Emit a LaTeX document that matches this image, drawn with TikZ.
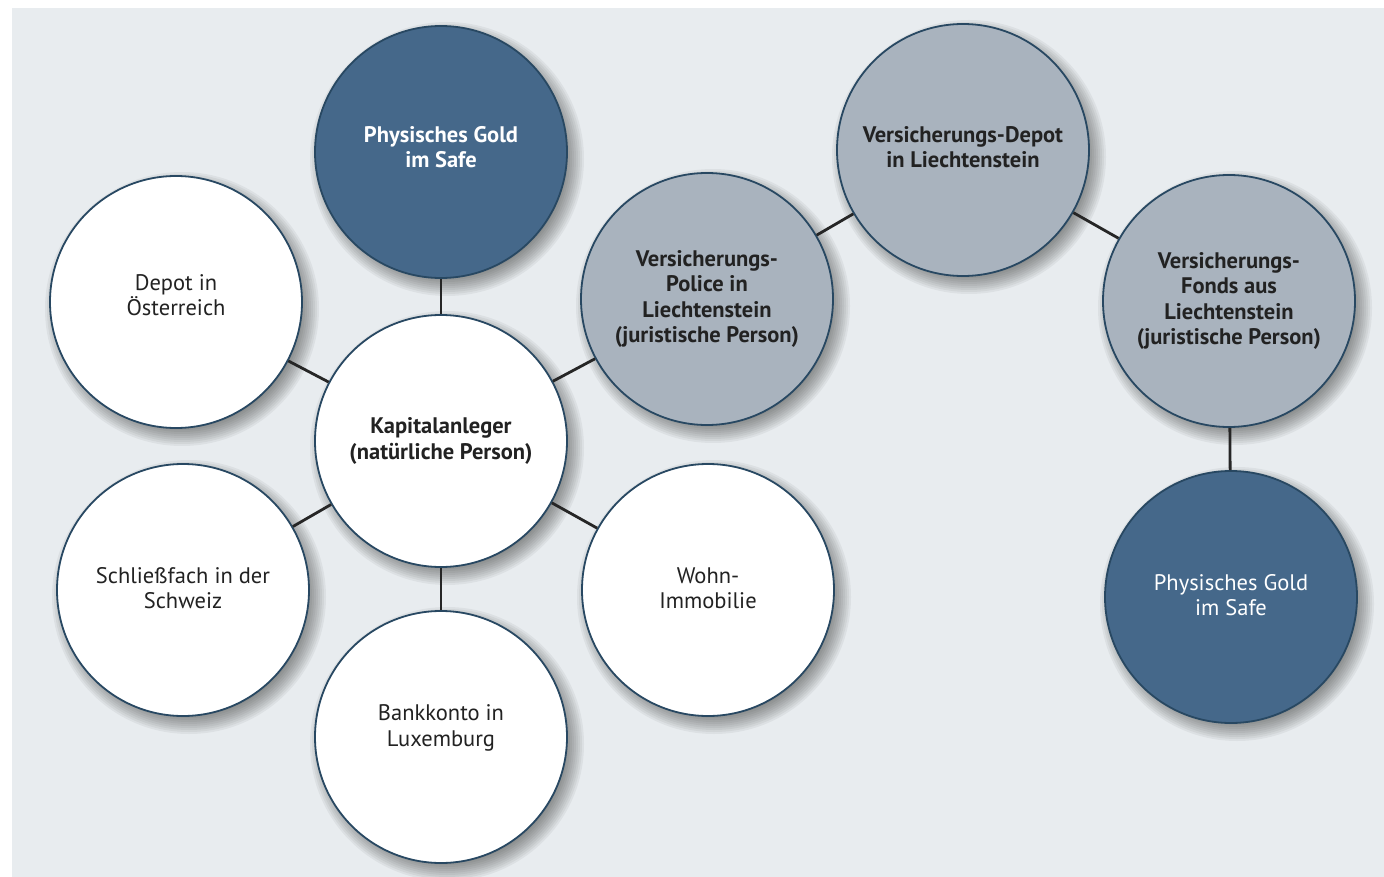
\documentclass[tikz,border=0pt]{standalone}
\usepackage{fontspec}
\setmainfont{PT Sans}
\pgfdeclarelayer{bglayer}
\pgfdeclarelayer{shadowlayer}
\pgfsetlayers{bglayer,shadowlayer,main}
\definecolor{bgc}{HTML}{E8ECEF}
\definecolor{darkc}{HTML}{45688A}
\definecolor{grayc}{HTML}{A9B3BE}
\definecolor{rimc}{HTML}{284862}
\definecolor{txtc}{HTML}{222222}
\tikzset{
  circ/.style={circle, draw=rimc, line width=1.8pt, minimum size=252pt, inner sep=0pt,
    align=center, font=\fontsize{22.5}{25.5}\selectfont, text=txtc},
  whitec/.style={circ, fill=white},
  boldt/.style={font=\fontsize{22.5}{25.5}\selectfont\bfseries},
  grayn/.style={circ, fill=grayc, boldt},
  darkn/.style={circ, fill=darkc, text=white},
  tup/.style={text depth=#1},
  conn/.style={draw=black!85, line width=2.8pt},
  shadowring/.style={fill=black!85, opacity=0.06}
}
\begin{document}
\begin{tikzpicture}[x=1pt,y=-1pt]
\useasboundingbox (0,0) rectangle (1384,877);
\begin{pgfonlayer}{bglayer}
\fill[white] (0,0) rectangle (1384,877);
\fill[bgc] (12,8) rectangle (1384,877);
\end{pgfonlayer}

\node[whitec, boldt] (A) at (441,441) {Kapitalanleger\\(natürliche Person)};
\node[darkn, boldt, tup=10pt] (B) at (441,152) {Physisches Gold\\im Safe};
\node[whitec, tup=14pt] (C) at (176,302) {Depot in\\Österreich};
\node[whitec, tup=4pt] (D) at (183,590) {Schließfach in der\\Schweiz};
\node[whitec, tup=23pt] (E) at (441,737) {Bankkonto in\\Luxemburg};
\node[whitec, tup=4pt] (F) at (708,590) {Wohn-\\Immobilie};
\node[grayn] (G) at (707,299) {Versicherungs-\\Police in\\Liechtenstein\\(juristische Person)};
\node[grayn, tup=6pt] (H) at (963,150) {Versicherungs-Depot\\in Liechtenstein};
\node[grayn] (I) at (1229,301) {Versicherungs-\\Fonds aus\\Liechtenstein\\(juristische Person)};
\node[darkn, tup=4pt] (J) at (1231,597) {Physisches Gold\\im Safe};

\begin{pgfonlayer}{shadowlayer}
\foreach \n in {A,B,C,D,E,F,G,H,I,J}{
  \foreach \r in {137,135,...,119}{
    \fill[shadowring] ([shift={(6,7)}]\n.center) circle[radius=\r];
  }
}
\end{pgfonlayer}

\draw[conn] (A) -- (B);
\draw[conn] (A) -- (C);
\draw[conn] (A) -- (D);
\draw[conn] (A) -- (E);
\draw[conn] (A) -- (F);
\draw[conn] (A) -- (G);
\draw[conn] (G) -- (H);
\draw[conn] (H) -- (I);
\draw[conn] (I) -- (J);
\end{tikzpicture}
\end{document}
